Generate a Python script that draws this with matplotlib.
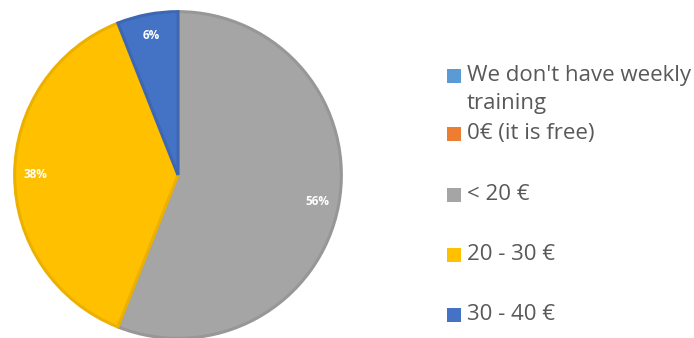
import matplotlib.pyplot as plt
from matplotlib.patches import Rectangle

plt.rcParams['font.family'] = ['Open Sans', 'DejaVu Sans']

labels = ["We don't have weekly\ntraining", "0€ (it is free)", "< 20 €", "20 - 30 €", "30 - 40 €"]
shares = [0, 0, 56, 38, 6]
colors = ['#5b9bd5', '#ed7d31', '#a5a5a5', '#ffc000', '#4472c4']
edges = ['#5b9bd5', '#ed7d31', '#979797', '#ecb100', '#3d67b2']

W, H = 694, 338
fig = plt.figure(figsize=(W / 100, H / 100), dpi=100)
ax = fig.add_axes([13 / W, -2 / H, 330 / W, 330 / H])

wedges, texts, autotexts = ax.pie(
    shares, colors=colors, startangle=90, counterclock=False,
    autopct=lambda p: f'{p:.0f}%' if p > 0 else '', pctdistance=0.87,
    textprops=dict(color='white', fontsize=8.5, fontweight='bold'),
)
for w, v, ec in zip(wedges, shares, edges):
    if v == 0:
        w.set_linewidth(0)
    else:
        w.set_edgecolor(ec)
        w.set_linewidth(2.2)
ax.set_xlim(-1.01, 1.01)
ax.set_ylim(-1.01, 1.01)
ax.set_aspect('equal')

# legend drawn by hand so the spacing follows the source layout
legend_y = [76, 134, 195, 255, 315]
for lab, col, y in zip(labels, colors, legend_y):
    fig.patches.append(Rectangle((447 / W, 1 - (y + 7) / H), 14 / W, 14 / H,
                                 transform=fig.transFigure, facecolor=col,
                                 edgecolor='none'))
    for k, line in enumerate(lab.split('\n')):
        fig.text(467 / W, 1 - (y + 28 * k) / H, line, fontsize=16,
                 color='#595959', va='center', ha='left')

fig.savefig('out.png', dpi=100)
